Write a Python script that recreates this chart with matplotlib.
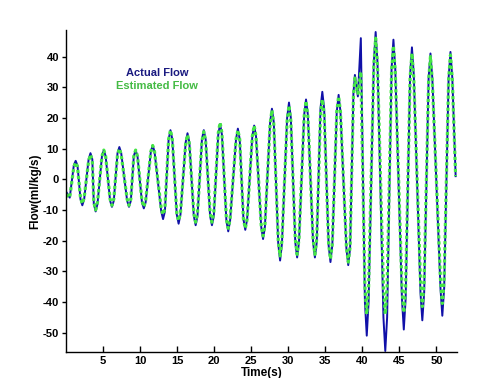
import matplotlib
matplotlib.use("Agg")
import matplotlib.pyplot as plt

# Time (s) of points (peaks, troughs and their shoulders)
time_s = [0, 0.5,
          1.05, 1.3, 1.55, 1.95, 2.2, 2.45, 3.05, 3.3, 3.55, 3.75, 4.0, 4.25,
          4.85, 5.1, 5.35, 5.95, 6.2, 6.45, 6.95, 7.2, 7.45, 8.25, 8.5, 8.75,
          9.15, 9.4, 9.65, 10.25, 10.5, 10.75, 11.45, 11.7, 11.95, 12.85, 13.1, 13.35,
          13.85, 14.1, 14.35, 14.95, 15.2, 15.45, 16.15, 16.4, 16.65, 17.25, 17.5, 17.75,
          18.35, 18.6, 18.85, 19.45, 19.7, 19.95, 20.55, 20.8, 21.05, 21.65, 21.9, 22.15,
          22.95, 23.2, 23.45, 23.95, 24.2, 24.45, 25.15, 25.4, 25.65, 26.35, 26.6, 26.85,
          27.55, 27.8, 28.05, 28.65, 28.9, 29.15, 29.85, 30.1, 30.35, 30.95, 31.2, 31.45,
          32.15, 32.4, 32.65, 33.35, 33.6, 33.85, 34.35, 34.6, 34.85, 35.45, 35.7, 35.95,
          36.55, 36.8, 37.05, 37.85, 38.1, 38.35, 38.8, 39.0, 39.4, 39.8,
          40.35, 40.6, 40.85, 41.55, 41.8, 42.05, 42.85, 43.1, 43.35,
          43.95, 44.2, 44.45, 45.35, 45.6, 45.85, 46.45, 46.7, 46.95, 47.85, 48.1, 48.35,
          48.95, 49.2, 49.45, 50.55, 50.8, 51.05, 51.65, 51.9, 52.15, 52.6]

actual_flow = [-4, -6,
               4.5, 6, 4.5, -6.5, -8.5, -6.5, 6.5, 8.5, 6.5, -8, -10.5, -8,
               7.5, 9.5, 7.5, -7, -9, -7, 8.5, 10.5, 8.5, -7, -9, -7,
               7.5, 9.5, 7.5, -7.5, -9.5, -7.5, 9, 11, 9, -10.5, -13, -10.5,
               13, 16, 13, -11.5, -14.5, -11.5, 12, 15, 12, -12, -15, -12,
               13, 16, 13, -12, -15, -12, 14.5, 18, 14.5, -13.5, -17, -13.5,
               13, 16.5, 13, -13, -16.5, -13, 14, 17.5, 14, -15.5, -19.5, -15.5,
               18.5, 23, 18.5, -21, -26.5, -21, 20, 25, 20, -20.5, -25.5, -20.5,
               21, 26, 21, -20.5, -25.5, -20.5, 23, 28.5, 23, -21.5, -27, -21.5,
               22, 27.5, 22, -22.5, -28, -22.5, 28, 34, 27, 46,
               -40, -51, -40, 38, 48, 38, -45, -56, -45,
               36, 45.5, 36, -39, -49, -39, 34, 43, 34, -37, -46, -37,
               33, 41, 33, -35.5, -44.5, -35.5, 33, 41.5, 33, 1]

estimated_flow = [-5, -6,
                  4, 5.5, 4, -6, -8, -6, 6, 8, 6, -7.5, -10, -7.5,
                  7.5, 9.5, 7.5, -6.5, -8.5, -6.5, 8, 10, 8, -6.5, -8.5, -6.5,
                  7.5, 9.5, 7.5, -7, -9, -7, 9, 11, 9, -9.5, -11.5, -9.5,
                  13, 16, 13, -11, -13.5, -11, 11.5, 14.5, 11.5, -11, -14, -11,
                  12.5, 15.5, 12.5, -11, -14, -11, 15, 18.5, 15, -13, -16, -13,
                  13, 16, 13, -13, -16, -13, 14, 17.5, 14, -15, -18.5, -15,
                  18, 22.5, 18, -20, -25, -20, 19, 24, 19, -19.5, -24.5, -19.5,
                  20.5, 25.5, 20.5, -19.5, -24.5, -19.5, 21, 26, 21, -21, -26, -21,
                  22, 27, 22, -22, -27, -22, 27, 33, 28, 35,
                  -35, -44, -35, 37, 46, 37, -35, -44, -35,
                  35, 43.5, 35, -35, -43.5, -35, 33, 41, 33, -33, -41.5, -33,
                  32, 40, 32, -32.5, -40.5, -32.5, 32.5, 40.5, 32.5, 1]

x_ticks = [5, 10, 15, 20, 25, 30, 35, 40, 45, 50]
y_ticks = [-50, -40, -30, -20, -10, 0, 10, 20, 30, 40]

plt.rcParams['font.family'] = ['Liberation Sans', 'DejaVu Sans']

fig = plt.figure(figsize=(5.04, 3.78), dpi=100)
ax = fig.add_axes([0.131, 0.069, 0.776, 0.852])

ax.plot(time_s, actual_flow, color='#1010a8', lw=1.4)
ax.plot(time_s, estimated_flow, color='#44e644', lw=2.3, ls=(0, (1, 0.9)))

ax.set_xlim(0, 52.8)
ax.set_ylim(-56.3, 48.7)
ax.set_xticks(x_ticks)
ax.set_yticks(y_ticks)
ax.set_xticklabels([str(v) for v in x_ticks], fontsize=8, fontweight='bold')
ax.set_yticklabels([str(v) for v in y_ticks], fontsize=8, fontweight='bold')
ax.tick_params(axis='y', direction='out', length=3, width=1, pad=2)
ax.tick_params(axis='x', direction='in', length=4, width=1, pad=3)

for s in ['top', 'right']:
    ax.spines[s].set_visible(False)
for s in ['left', 'bottom']:
    ax.spines[s].set_linewidth(1.0)

ax.set_ylabel('Flow(ml/kg/s)', fontsize=8.5, fontweight='bold', labelpad=1)
ax.set_xlabel('Time(s)', fontsize=8.5, fontweight='bold', labelpad=1)

ax.text(0.233, 0.866, 'Actual Flow', transform=ax.transAxes, ha='center',
        va='center', color='#1a1a80', fontsize=8, fontweight='bold')
ax.text(0.233, 0.826, 'Estimated Flow', transform=ax.transAxes, ha='center',
        va='center', color='#44bb44', fontsize=8, fontweight='bold')

fig.savefig('out.png', dpi=100)
